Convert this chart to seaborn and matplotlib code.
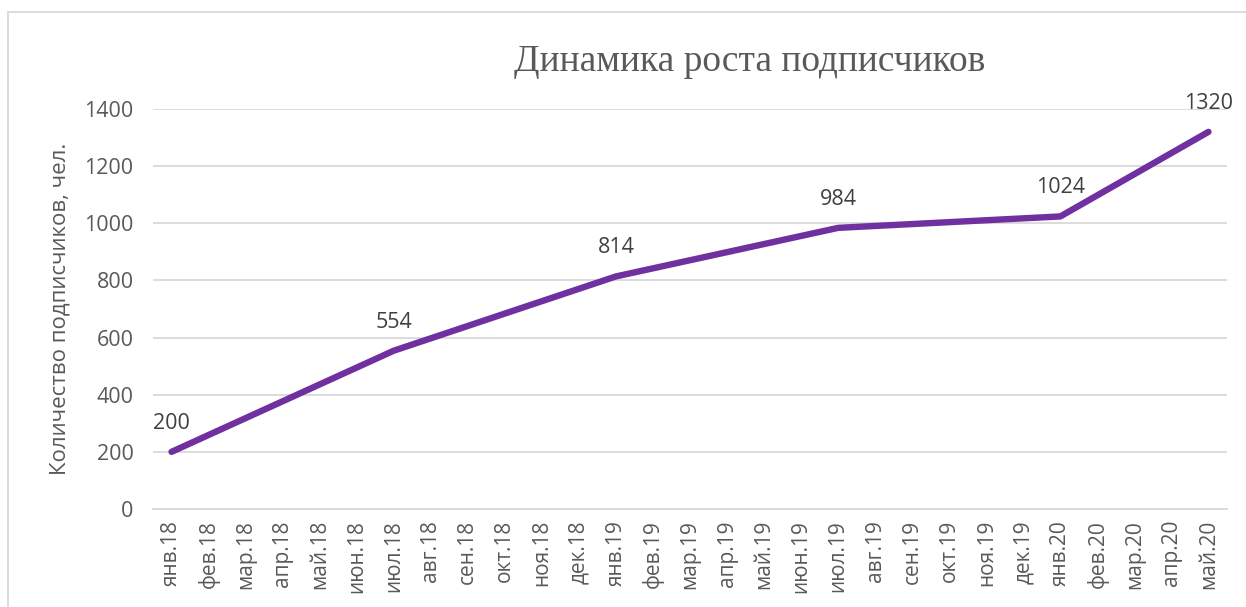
import numpy as np
import pandas as pd
import matplotlib.pyplot as plt
import matplotlib.patches as mpatches
import seaborn as sns

# months on the x axis
months = ['янв.18', 'фев.18', 'мар.18', 'апр.18', 'май.18', 'июн.18', 'июл.18',
          'авг.18', 'сен.18', 'окт.18', 'ноя.18', 'дек.18',
          'янв.19', 'фев.19', 'мар.19', 'апр.19', 'май.19', 'июн.19', 'июл.19',
          'авг.19', 'сен.19', 'окт.19', 'ноя.19', 'дек.19',
          'янв.20', 'фев.20', 'мар.20', 'апр.20', 'май.20']

# only these months have values, the rest are blank (line connects the gaps)
subscribers = [200, np.nan, np.nan, np.nan, np.nan, np.nan, 554,
               np.nan, np.nan, np.nan, np.nan, np.nan,
               814, np.nan, np.nan, np.nan, np.nan, np.nan, 984,
               np.nan, np.nan, np.nan, np.nan, np.nan,
               1024, np.nan, np.nan, np.nan, 1320]

yticks = [0, 200, 400, 600, 800, 1000, 1200, 1400]

df = pd.DataFrame({'month': months, 'subs': subscribers})
df['pos'] = np.arange(len(df))
pts = df.dropna()

sns.set_style('white')
plt.rcParams['font.family'] = ['Open Sans', 'DejaVu Sans']

fig = plt.figure(figsize=(12.46, 6.07), dpi=100)
ax = fig.add_axes([153/1246, 1 - 509/607, (1227-153)/1246, 400/607])

sns.lineplot(data=pts, x='pos', y='subs', ax=ax, color='#7030A0', linewidth=4.6,
             solid_capstyle='round', solid_joinstyle='round')

# data labels above each point
for _, r in pts.iterrows():
    ax.annotate(f"{int(r['subs'])}", (r['pos'], r['subs']), xytext=(0, 13),
                textcoords='offset points', ha='center', va='bottom',
                fontsize=15.5, color='#404040')

ax.set_xlim(-0.5, len(months) - 0.5)
ax.set_ylim(0, 1400)
ax.set_yticks(yticks)
ax.yaxis.grid(True, color='#D9D9D9', linewidth=1.3)
ax.set_axisbelow(True)

# category labels in the middle, tick marks on the boundaries
ax.set_xticks(np.arange(len(months)))
ax.set_xticklabels(months, rotation=90, fontsize=15, color='#595959')
ax.set_xticks(np.arange(len(months) + 1) - 0.5, minor=True)
ax.tick_params(axis='x', which='major', length=0, pad=8)
ax.tick_params(axis='x', which='minor', length=7, color='#D9D9D9', width=1.3)
ax.tick_params(axis='y', length=0, labelsize=15.5, labelcolor='#595959', pad=14)

for s in ['top', 'right', 'left']:
    ax.spines[s].set_visible(False)
ax.spines['bottom'].set_color('#D9D9D9')
ax.spines['bottom'].set_linewidth(1.3)

ax.set_xlabel('')
ax.set_ylabel('Количество подписчиков, чел.', fontsize=16, color='#595959', labelpad=10)

fig.text(750/1246, 1 - 62/607, 'Динамика роста подписчиков', ha='center', va='center',
         fontsize=27, color='#595959', family=['Liberation Serif', 'DejaVu Serif'])

# chart border, cut off at right and bottom
fig.patches.append(mpatches.Rectangle((8/1246, -0.1), 1.2, 1 - 12/607 + 0.1,
                                      transform=fig.transFigure, fill=False,
                                      edgecolor='#D9D9D9', linewidth=1.3))

fig.savefig('out.png', dpi=100)
